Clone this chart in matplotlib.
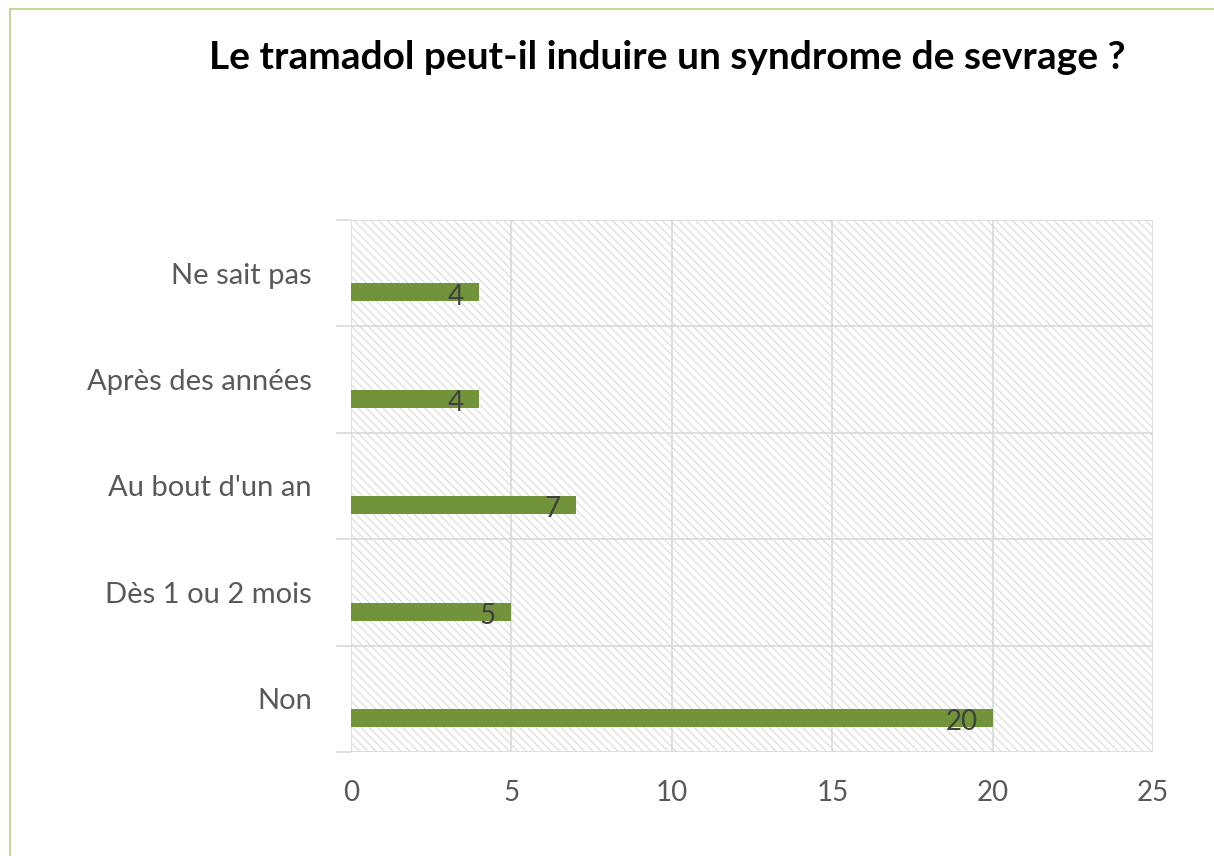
import matplotlib
matplotlib.use("Agg")
import matplotlib.pyplot as plt
from matplotlib.patches import Rectangle

categories = ["Non", "Dès 1 ou 2 mois", "Au bout d'un an", "Après des années", "Ne sait pas"]
values = [20, 5, 7, 4, 4]
title = "Le tramadol peut-il induire un syndrome de sevrage ?"
xticks = [0, 5, 10, 15, 20, 25]

plt.rcParams['font.family'] = ['Lato', 'DejaVu Sans']
plt.rcParams['hatch.color'] = '#dadada'
plt.rcParams['hatch.linewidth'] = 0.8

fig = plt.figure(figsize=(12.14, 8.56), dpi=100)
ax = fig.add_axes([0.289, 0.1215, 0.661, 0.6215])

# light green frame around the whole chart
fig.patches.append(Rectangle((0.008, -0.01), 1.2, 0.999, transform=fig.transFigure,
                             fill=False, edgecolor='#c3d69b', linewidth=1.5))

n = len(categories)
ax.set_xlim(0, 25)
ax.set_ylim(-0.5, n - 0.5)

# hatched plot area
ax.add_patch(Rectangle((0, -0.5), 25, n, facecolor='white', edgecolor='#dadada',
                       hatch='\\\\\\\\', linewidth=0, zorder=0))

pos = [i - 0.18 for i in range(n)]
ax.barh(pos, values, height=0.17, color='#71943a', zorder=3)
for p, v in zip(pos, values):
    ax.annotate(str(v), (v, p), xytext=(-11, -3), textcoords='offset points',
                ha='right', va='center', fontsize=20, color='#404040', zorder=4)

for x in xticks:
    ax.axvline(x, color='#d9d9d9', linewidth=1.2, zorder=1)
for k in range(n + 1):
    ax.axhline(k - 0.5, color='#d9d9d9', linewidth=1.2, zorder=1)

ax.set_yticks(range(n))
ax.set_yticklabels(categories, fontsize=21, color='#595959')
ax.set_yticks([k - 0.5 for k in range(n + 1)], minor=True)
ax.tick_params(axis='y', which='major', length=0, pad=28)
ax.tick_params(axis='y', which='minor', length=11, color='#d9d9d9', width=1.2)
ax.set_xticks(xticks)
ax.set_xticklabels([str(t) for t in xticks], fontsize=20, color='#595959')
ax.tick_params(axis='x', length=0, pad=20)

for s in ax.spines.values():
    s.set_visible(False)

fig.text(0.55, 0.933, title, ha='center', va='center', fontsize=28,
         fontweight='bold', color='black')

fig.savefig("out.png", dpi=100)
